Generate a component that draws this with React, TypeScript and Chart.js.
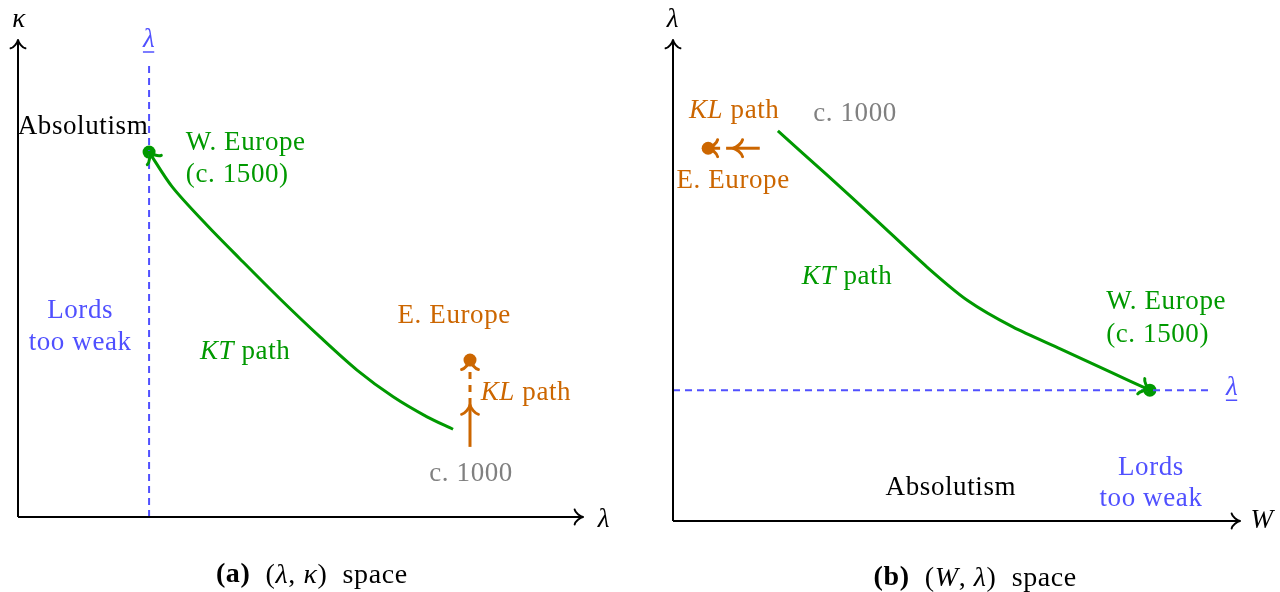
import React, { useEffect, useRef } from "react";
import { Chart, registerables } from "chart.js";
Chart.register(...registerables);

const GREEN = "rgb(0,153,0)";
const ORANGE = "rgb(204,102,0)";
const BLUE = "rgb(80,80,255)";
const GRAY = "rgb(128,128,128)";
const BLACK = "#000000";
const FONT = '"Liberation Serif", "DejaVu Serif", serif';
const FS = 27;

// ---------- Panel (a): (lambda, kappa) space ----------
const aAxisX = [0, 10];
const aAxisY = [0, 10];
const aLambdaBar = 2.32;
const aLambdaBarTop = 9.54;
const aKTx = [7.7, 7.24, 6.64, 6.0, 5.35, 4.64, 3.93, 3.35, 2.73, 2.32];
const aKTy = [1.84, 2.1, 2.52, 3.08, 3.77, 4.57, 5.41, 6.11, 6.92, 7.65];
const aKLx = [8.0, 8.0, 8.0];
const aKLy = [1.47, 2.35, 3.29];

// ---------- Panel (b): (W, lambda) space ----------
const bAxisX = [0, 10];
const bAxisY = [0, 10];
const bLambdaBar = 2.72;
const bLambdaBarEnd = 9.47;
const bKTx = [1.85, 2.72, 3.6, 4.48, 5.19, 6.0, 6.83, 7.71, 8.41];
const bKTy = [8.11, 7.19, 6.24, 5.28, 4.59, 4.03, 3.58, 3.10, 2.72];
const bKLx = [1.53, 1.06, 0.62];
const bKLy = [7.75, 7.75, 7.75];

type Part = { t: string; it?: boolean; b?: boolean };
type Label = { x: number; y: number; parts: Part[]; color: string; align?: "left" | "center"; underline?: boolean; size?: number };

const aLabels: Label[] = [
  { x: 0.02, y: 10.42, parts: [{ t: "κ", it: true }], color: BLACK },
  { x: 2.32, y: 10.0, parts: [{ t: "λ", it: true }], color: BLUE, underline: true },
  { x: 1.15, y: 8.18, parts: [{ t: "Absolutism" }], color: BLACK },
  { x: 2.97, y: 7.84, parts: [{ t: "W. Europe" }], color: GREEN, align: "left" },
  { x: 2.97, y: 7.17, parts: [{ t: "(c. 1500)" }], color: GREEN, align: "left" },
  { x: 1.1, y: 4.32, parts: [{ t: "Lords" }], color: BLUE },
  { x: 1.1, y: 3.65, parts: [{ t: "too weak" }], color: BLUE },
  { x: 4.02, y: 3.46, parts: [{ t: "KT", it: true }, { t: " path" }], color: GREEN },
  { x: 7.72, y: 4.21, parts: [{ t: "E. Europe" }], color: ORANGE },
  { x: 8.19, y: 2.6, parts: [{ t: "KL", it: true }, { t: " path" }], color: ORANGE, align: "left" },
  { x: 8.02, y: 0.9, parts: [{ t: "c. 1000" }], color: GRAY },
  { x: 10.37, y: -0.06, parts: [{ t: "λ", it: true }], color: BLACK },
  { x: 5.2, y: -1.22, parts: [{ t: "(a)", b: true }, { t: "  (" }, { t: "λ", it: true }, { t: ", " }, { t: "κ", it: true }, { t: ")  space" }], color: BLACK, size: 28 },
];

const bLabels: Label[] = [
  { x: 0.0, y: 10.42, parts: [{ t: "λ", it: true }], color: BLACK },
  { x: 1.08, y: 8.52, parts: [{ t: "KL", it: true }, { t: " path" }], color: ORANGE },
  { x: 3.21, y: 8.46, parts: [{ t: "c. 1000" }], color: GRAY },
  { x: 1.06, y: 7.07, parts: [{ t: "E. Europe" }], color: ORANGE },
  { x: 3.07, y: 5.07, parts: [{ t: "KT", it: true }, { t: " path" }], color: GREEN },
  { x: 7.64, y: 4.55, parts: [{ t: "W. Europe" }], color: GREEN, align: "left" },
  { x: 7.64, y: 3.87, parts: [{ t: "(c. 1500)" }], color: GREEN, align: "left" },
  { x: 9.86, y: 2.76, parts: [{ t: "λ", it: true }], color: BLUE, underline: true },
  { x: 8.43, y: 1.1, parts: [{ t: "Lords" }], color: BLUE },
  { x: 8.43, y: 0.46, parts: [{ t: "too weak" }], color: BLUE },
  { x: 4.9, y: 0.69, parts: [{ t: "Absolutism" }], color: BLACK },
  { x: 10.39, y: 0.0, parts: [{ t: "W", it: true }], color: BLACK },
  { x: 5.33, y: -1.19, parts: [{ t: "(b)", b: true }, { t: "  (" }, { t: "W", it: true }, { t: ", " }, { t: "λ", it: true }, { t: ")  space" }], color: BLACK, size: 28 },
];

function fontFor(p: Part, size: number) {
  return `${p.it ? "italic " : ""}${p.b ? "bold " : ""}${size}px ${FONT}`;
}

// TikZ "to" style arrow tip (cubic barbs curling outward)
function drawArrow(ctx: CanvasRenderingContext2D, tx: number, ty: number, fx: number, fy: number, color: string, lw: number, u: number) {
  const ang = Math.atan2(ty - fy, tx - fx);
  ctx.save();
  ctx.translate(tx, ty);
  ctx.rotate(ang);
  ctx.strokeStyle = color;
  ctx.lineWidth = lw;
  ctx.lineCap = "round";
  ctx.lineJoin = "round";
  ctx.setLineDash([]);
  ctx.beginPath();
  ctx.moveTo(-2.25 * u, -2 * u);
  ctx.bezierCurveTo(-2.125 * u, -1.25 * u, -0.75 * u, -0.125 * u, 0, 0);
  ctx.bezierCurveTo(-0.75 * u, 0.125 * u, -2.125 * u, 1.25 * u, -2.25 * u, 2 * u);
  ctx.stroke();
  ctx.restore();
}

const diagramPlugin = {
  id: "diagram",
  afterDatasetsDraw(chart: any, _args: any, opts: any) {
    const ctx: CanvasRenderingContext2D = chart.ctx;
    const xs = chart.scales.x;
    const ys = chart.scales.y;
    const px = (v: number) => xs.getPixelForValue(v);
    const py = (v: number) => ys.getPixelForValue(v);
    ctx.save();
    for (const a of opts.arrows || []) {
      const d = chart.data.datasets[a.ds].data;
      const tip = d[a.at];
      const from = d[a.at - 1];
      drawArrow(ctx, px(tip.x), py(tip.y), px(from.x), py(from.y), a.color, a.lw, a.u);
    }
    for (const l of (opts.labels || []) as Label[]) {
      const size = l.size || FS;
      (ctx as any).letterSpacing = "0.6px";
      let total = 0;
      const widths = l.parts.map((p) => {
        ctx.font = fontFor(p, size);
        const w = ctx.measureText(p.t).width;
        total += w;
        return w;
      });
      let x = px(l.x);
      const y = py(l.y);
      if ((l.align || "center") === "center") x -= total / 2;
      const x0 = x;
      ctx.fillStyle = l.color;
      ctx.textBaseline = "middle";
      ctx.textAlign = "left";
      l.parts.forEach((p, i) => {
        ctx.font = fontFor(p, size);
        ctx.fillText(p.t, x, y);
        x += widths[i];
      });
      if (l.underline) {
        ctx.strokeStyle = l.color;
        ctx.lineWidth = 1.5;
        ctx.setLineDash([]);
        ctx.beginPath();
        ctx.moveTo(x0, y + 12);
        ctx.lineTo(x0 + total - 1, y + 12);
        ctx.stroke();
      }
    }
    ctx.restore();
  },
};

const pts = (xs: number[], ys: number[]) => xs.map((x, i) => ({ x, y: ys[i] }));

function line(data: any[], color: string, width: number, dash: number[] = [], tension = 0) {
  return {
    data,
    showLine: true,
    borderColor: color,
    borderWidth: width,
    borderDash: dash,
    pointRadius: 0,
    tension,
    clip: false,
    borderCapStyle: "butt",
  };
}

function makeConfig(which: "a" | "b") {
  const isA = which === "a";
  const axX = isA ? aAxisX : bAxisX;
  const axY = isA ? aAxisY : bAxisY;
  const kt = isA ? pts(aKTx, aKTy) : pts(bKTx, bKTy);
  const kl = isA ? pts(aKLx, aKLy) : pts(bKLx, bKLy);
  const bar = isA
    ? [{ x: aLambdaBar, y: 0 }, { x: aLambdaBar, y: aLambdaBarTop }]
    : [{ x: 0, y: bLambdaBar }, { x: bLambdaBarEnd, y: bLambdaBar }];
  const datasets: any[] = [
    line([{ x: axX[0], y: 0 }, { x: axX[1], y: 0 }], BLACK, 2),
    line([{ x: 0, y: axY[0] }, { x: 0, y: axY[1] }], BLACK, 2),
    line(bar, BLUE, 2, [7, 5]),
    line(kt, GREEN, 3, [], isA ? 0.3 : 0.25),
    line([kl[0], kl[1]], ORANGE, 3),
    line([kl[1], kl[2]], ORANGE, 3, [7, 6]),
    {
      data: [kt[kt.length - 1], kl[2]],
      showLine: false,
      pointRadius: 6.5,
      pointBackgroundColor: [GREEN, ORANGE],
      pointBorderWidth: 0,
      clip: false,
    },
  ];
  const arrows = [
    { ds: 0, at: 1, color: BLACK, lw: 2, u: 3.7 },
    { ds: 1, at: 1, color: BLACK, lw: 2, u: 3.7 },
    { ds: 3, at: kt.length - 1, color: GREEN, lw: 3, u: 4.2 },
    { ds: 4, at: 1, color: ORANGE, lw: 3, u: 4.2 },
    { ds: 5, at: 1, color: ORANGE, lw: 3, u: 4.2 },
  ];
  const labels = isA ? aLabels : bLabels;
  const padding = isA ? { left: 18, right: 57, top: 40, bottom: 75 } : { left: 33, right: 40, top: 40, bottom: 71 };
  return {
    type: "scatter" as const,
    data: { datasets },
    options: {
      animation: false,
      responsive: false,
      devicePixelRatio: 1,
      events: [],
      layout: { padding },
      scales: {
        x: { type: "linear", min: 0, max: 10, display: false },
        y: { type: "linear", min: 0, max: 10, display: false },
      },
      plugins: {
        legend: { display: false },
        tooltip: { enabled: false },
        diagram: { arrows, labels },
      },
    },
    plugins: [diagramPlugin],
  };
}

function Panel({ which, left }: { which: "a" | "b"; left: number }) {
  const ref = useRef<HTMLCanvasElement | null>(null);
  useEffect(() => {
    if (!ref.current) return;
    const chart = new Chart(ref.current, makeConfig(which) as any);
    return () => chart.destroy();
  }, [which]);
  return (
    <canvas
      ref={ref}
      width={640}
      height={592}
      style={{ position: "absolute", left, top: 0, width: 640, height: 592 }}
    />
  );
}

export default function App() {
  return (
    <div style={{ position: "fixed", left: 0, top: 0, width: 1280, height: 592, background: "#fff" }}>
      <Panel which="a" left={0} />
      <Panel which="b" left={640} />
    </div>
  );
}
